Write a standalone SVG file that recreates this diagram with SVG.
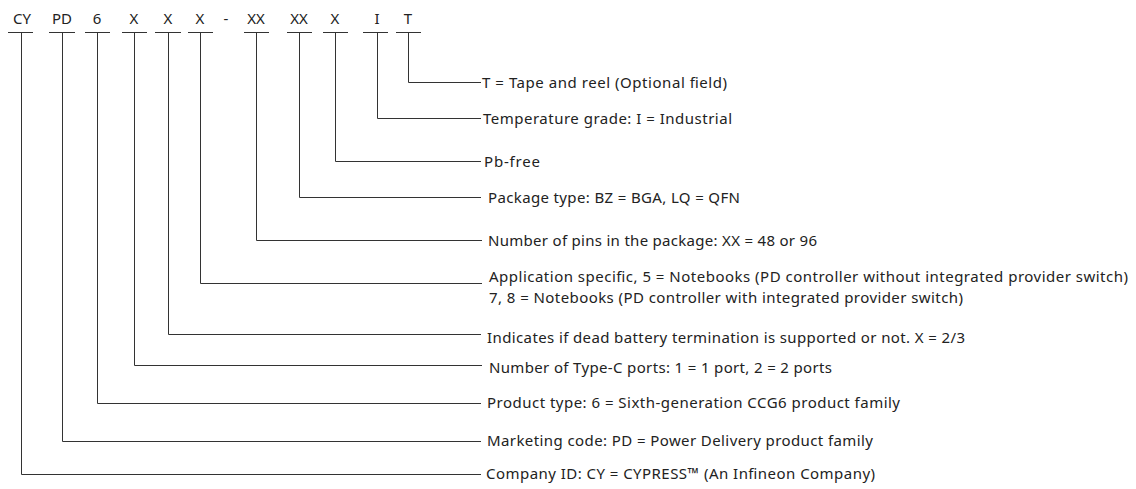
<svg xmlns="http://www.w3.org/2000/svg" width="1136" height="489" viewBox="0 0 1136 489">
<style>
text{font-family:"Noto Sans","Open Sans","Liberation Sans",sans-serif;font-size:15px;fill:#222}
.code{text-anchor:middle}
.ul{stroke:#333;stroke-width:1;fill:none}
.conn path{stroke:#333;stroke-width:1;fill:none}
</style>
<rect width="1136" height="489" fill="#fff"/>
<g id="codes">
<g id="c-CY"><text class="code" x="22" y="24">CY</text><line class="ul" x1="8" y1="32.5" x2="33" y2="32.5"/></g>
<g id="c-PD"><text class="code" x="62" y="24">PD</text><line class="ul" x1="49" y1="32.5" x2="75" y2="32.5"/></g>
<g id="c-6"><text class="code" x="97" y="24">6</text><line class="ul" x1="85" y1="32.5" x2="110" y2="32.5"/></g>
<g id="c-X1"><text class="code" x="134" y="24">X</text><line class="ul" x1="122" y1="32.5" x2="147" y2="32.5"/></g>
<g id="c-X2"><text class="code" x="168" y="24">X</text><line class="ul" x1="155" y1="32.5" x2="181" y2="32.5"/></g>
<g id="c-X3"><text class="code" x="200" y="24">X</text><line class="ul" x1="188" y1="32.5" x2="213" y2="32.5"/></g>
<g id="c-dash"><text class="code" x="226" y="24">-</text></g>
<g id="c-XX1"><text class="code" x="256" y="24">XX</text><line class="ul" x1="244" y1="32.5" x2="269" y2="32.5"/></g>
<g id="c-XX2"><text class="code" x="299" y="24">XX</text><line class="ul" x1="287" y1="32.5" x2="312" y2="32.5"/></g>
<g id="c-X4"><text class="code" x="335" y="24">X</text><line class="ul" x1="323" y1="32.5" x2="348" y2="32.5"/></g>
<g id="c-I"><text class="code" x="377" y="24">I</text><line class="ul" x1="363" y1="32.5" x2="388" y2="32.5"/></g>
<g id="c-T"><text class="code" x="408" y="24">T</text><line class="ul" x1="396" y1="32.5" x2="421" y2="32.5"/></g>
</g>
<g id="connectors" class="conn">
<path d="M408.5 32.5V82.5H481"/>
<path d="M377.5 32.5V118.5H481"/>
<path d="M335.5 32.5V161.5H481"/>
<path d="M299.5 32.5V197.5H481"/>
<path d="M256.5 32.5V240.5H482"/>
<path d="M200.5 32.5V283.5H482"/>
<path d="M168.5 32.5V334.5H481"/>
<path d="M134.5 32.5V365.5H482"/>
<path d="M97.5 32.5V403.5H481"/>
<path d="M62.5 32.5V441.5H481"/>
<path d="M21.5 32.5V474.5H481"/>
</g>
<g id="descriptions">
<g id="d-T"><text x="482" y="88" textLength="245" lengthAdjust="spacing">T = Tape and reel (Optional field)</text></g>
<g id="d-I"><text x="483" y="124" textLength="249" lengthAdjust="spacing">Temperature grade: I = Industrial</text></g>
<g id="d-pb"><text x="484" y="167" textLength="56" lengthAdjust="spacing">Pb-free</text></g>
<g id="d-pkg"><text x="488" y="203" textLength="252" lengthAdjust="spacing">Package type: BZ = BGA, LQ = QFN</text></g>
<g id="d-pins"><text x="488" y="246" textLength="329" lengthAdjust="spacing">Number of pins in the package: XX = 48 or 96</text></g>
<g id="d-app"><text x="489" y="282" textLength="639" lengthAdjust="spacing">Application specific, 5 = Notebooks (PD controller without integrated provider switch)</text><text x="489" y="303" textLength="474" lengthAdjust="spacing">7, 8 = Notebooks (PD controller with integrated provider switch)</text></g>
<g id="d-dead"><text x="487" y="343" textLength="478" lengthAdjust="spacing">Indicates if dead battery termination is supported or not. X = 2/3</text></g>
<g id="d-ports"><text x="489" y="373" textLength="343" lengthAdjust="spacing">Number of Type-C ports: 1 = 1 port, 2 = 2 ports</text></g>
<g id="d-prod"><text x="487" y="408" textLength="413" lengthAdjust="spacing">Product type: 6 = Sixth-generation CCG6 product family</text></g>
<g id="d-mkt"><text x="487" y="446" textLength="386" lengthAdjust="spacing">Marketing code: PD = Power Delivery product family</text></g>
<g id="d-co"><text x="486" y="479" textLength="389" lengthAdjust="spacing">Company ID: CY = CYPRESS™ (An Infineon Company)</text></g>
</g>
</svg>
